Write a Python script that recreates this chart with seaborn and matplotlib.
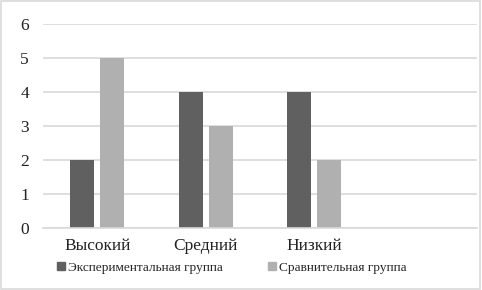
import pandas as pd
import matplotlib.pyplot as plt
import seaborn as sns
from matplotlib.lines import Line2D
from matplotlib.patches import Rectangle

categories = ['Высокий', 'Средний', 'Низкий']
groups = ['Экспериментальная группа', 'Сравнительная группа']
experimental = [2, 4, 4]
comparison = [5, 3, 2]
colors = ['#606060', '#b0b0b0']

rows = []
for cat, e, c in zip(categories, experimental, comparison):
    rows.append({'Уровень': cat, 'Группа': groups[0], 'Значение': e})
    rows.append({'Уровень': cat, 'Группа': groups[1], 'Значение': c})
df = pd.DataFrame(rows)

sns.set_style('white')
plt.rcParams['font.family'] = ['Liberation Serif', 'DejaVu Serif']

fig = plt.figure(figsize=(4.82, 2.9), dpi=100)
ax = fig.add_axes([0.089, 0.214, 0.901, 0.703])

sns.barplot(data=df, x='Уровень', y='Значение', hue='Группа', order=categories,
            hue_order=groups, palette=colors, width=0.55, gap=0.2,
            saturation=1, linewidth=0, legend=False, ax=ax)

ax.set_xlim(-0.5, 3.5)
ax.set_ylim(0, 6)
ax.set_yticks(range(0, 7))
ax.yaxis.grid(True, color='#d9d9d9', linewidth=1.2)
ax.set_axisbelow(True)
for side in ['left', 'right', 'top']:
    ax.spines[side].set_visible(False)
ax.spines['bottom'].set_color('#d9d9d9')
ax.spines['bottom'].set_linewidth(1.2)
ax.tick_params(axis='both', length=0, labelsize=12.5, colors='#222222')
ax.tick_params(axis='y', pad=10)
ax.tick_params(axis='x', pad=7)
ax.set_xlabel('')
ax.set_ylabel('')

handles = [Line2D([], [], marker='s', linestyle='', color=c, markersize=6)
           for c in colors]
fig.legend(handles, groups, loc='center', bbox_to_anchor=(0.48, 0.076),
           ncol=2, frameon=False, fontsize=9.6, handletextpad=0.1,
           columnspacing=3.3, handlelength=0.8)

fig.patches.append(Rectangle((0.002, 0.003), 0.994, 0.992, transform=fig.transFigure,
                             fill=False, edgecolor='#d9d9d9', linewidth=1.2))

fig.savefig('out.png', dpi=100)
